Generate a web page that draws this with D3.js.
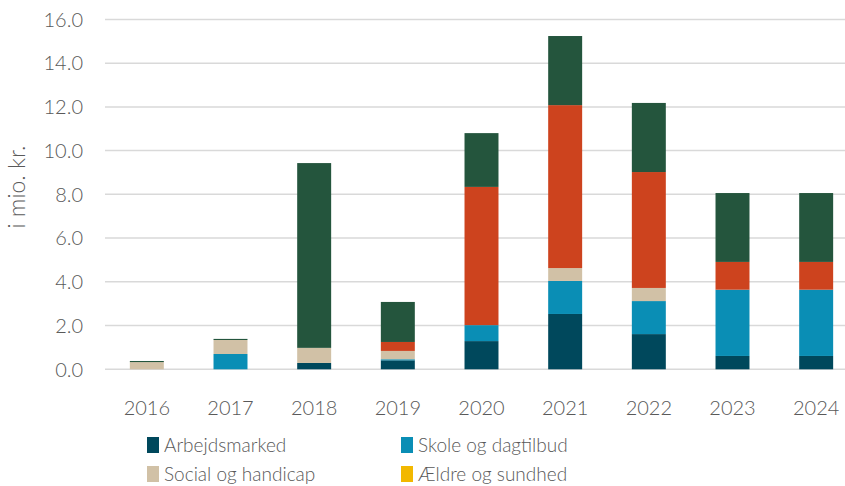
<!DOCTYPE html>
<html>
<head>
<meta charset="utf-8">
<script src="https://cdn.jsdelivr.net/npm/d3@7"></script>
<style>
  body { margin: 0; background: #fff; }
  text { font-family: Lato, "Open Sans", sans-serif; font-weight: 300; fill: #595959; }
</style>
</head>
<body>
<script>
var years = ["2016", "2017", "2018", "2019", "2020", "2021", "2022", "2023", "2024"];

var seriesNames = ["Arbejdsmarked", "Skole og dagtilbud", "Social og handicap",
  "Ældre og sundhed", "Teknik og miljø", "Tværgående"];
var seriesColors = ["#00485c", "#0a8eb5", "#d1c1a6", "#f2b800", "#cd431e", "#24553d"];

var arbejdsmarked = [0, 0, 0.29, 0.41, 1.29, 2.53, 1.61, 0.61, 0.61];
var skole = [0, 0.70, 0, 0.05, 0.73, 1.51, 1.51, 3.03, 3.03];
var social = [0.33, 0.64, 0.69, 0.38, 0, 0.59, 0.60, 0, 0];
var aeldre = [0, 0, 0, 0, 0, 0, 0, 0, 0];
var teknik = [0, 0, 0, 0.41, 6.32, 7.45, 5.30, 1.27, 1.27];
var tvaer = [0.05, 0.05, 8.45, 1.83, 2.46, 3.16, 3.16, 3.15, 3.15];

var yTicks = [0, 2, 4, 6, 8, 10, 12, 14, 16];

var width = 845, height = 486;
var svg = d3.select("body").append("svg")
  .attr("width", width).attr("height", height);

var columns = [arbejdsmarked, skole, social, aeldre, teknik, tvaer];
var rows = years.map(function (y, i) {
  var r = { year: y };
  seriesNames.forEach(function (n, j) { r[n] = columns[j][i]; });
  return r;
});

var x = d3.scaleBand().domain(years).range([105, 858])
  .paddingInner(0.594).paddingOuter(0.297);
var y = d3.scaleLinear().domain([0, 16]).range([369.3, 19.4]);

// gridlines
svg.append("g").selectAll("line").data(yTicks).join("line")
  .attr("x1", 105).attr("x2", width)
  .attr("y1", function (d) { return y(d); })
  .attr("y2", function (d) { return y(d); })
  .attr("stroke", "#d9d9d9").attr("stroke-width", 1.5);

var layers = d3.stack().keys(seriesNames)(rows);

svg.append("g").selectAll("g").data(layers).join("g")
  .attr("fill", function (d, i) { return seriesColors[i]; })
  .selectAll("rect").data(function (d) { return d; }).join("rect")
  .attr("x", function (d) { return x(d.data.year); })
  .attr("width", x.bandwidth())
  .attr("y", function (d) { return y(d[1]); })
  .attr("height", function (d) { return y(d[0]) - y(d[1]); });

// y axis labels
svg.append("g").selectAll("text").data(yTicks).join("text")
  .attr("x", 83).attr("y", function (d) { return y(d); })
  .attr("dy", "0.36em").attr("text-anchor", "end")
  .style("font-size", "20px")
  .text(function (d) { return d3.format(".1f")(d); });

// x axis labels
svg.append("g").selectAll("text").data(years).join("text")
  .attr("x", function (d) { return x(d) + x.bandwidth() / 2; })
  .attr("y", 408).attr("dy", "0.36em").attr("text-anchor", "middle")
  .style("font-size", "20px")
  .text(function (d) { return d; });

svg.append("text")
  .attr("transform", "translate(17,187) rotate(-90)")
  .attr("dy", "0.36em").attr("text-anchor", "middle")
  .style("font-size", "23px")
  .text("i mio. kr.");

// legend: only the two rows that fit in the picture
var legend = svg.append("g").selectAll("g").data(seriesNames.slice(0, 4)).join("g")
  .attr("transform", function (d, i) {
    return "translate(" + (i % 2 === 0 ? 147 : 401) + "," + (445 + Math.floor(i / 2) * 29) + ")";
  });
legend.append("rect")
  .attr("x", 0).attr("y", -8).attr("width", 12).attr("height", 16)
  .attr("fill", function (d, i) { return seriesColors[i]; });
legend.append("text")
  .attr("x", 17).attr("dy", "0.36em")
  .style("font-size", "19px")
  .text(function (d) { return d; });
</script>
</body>
</html>
